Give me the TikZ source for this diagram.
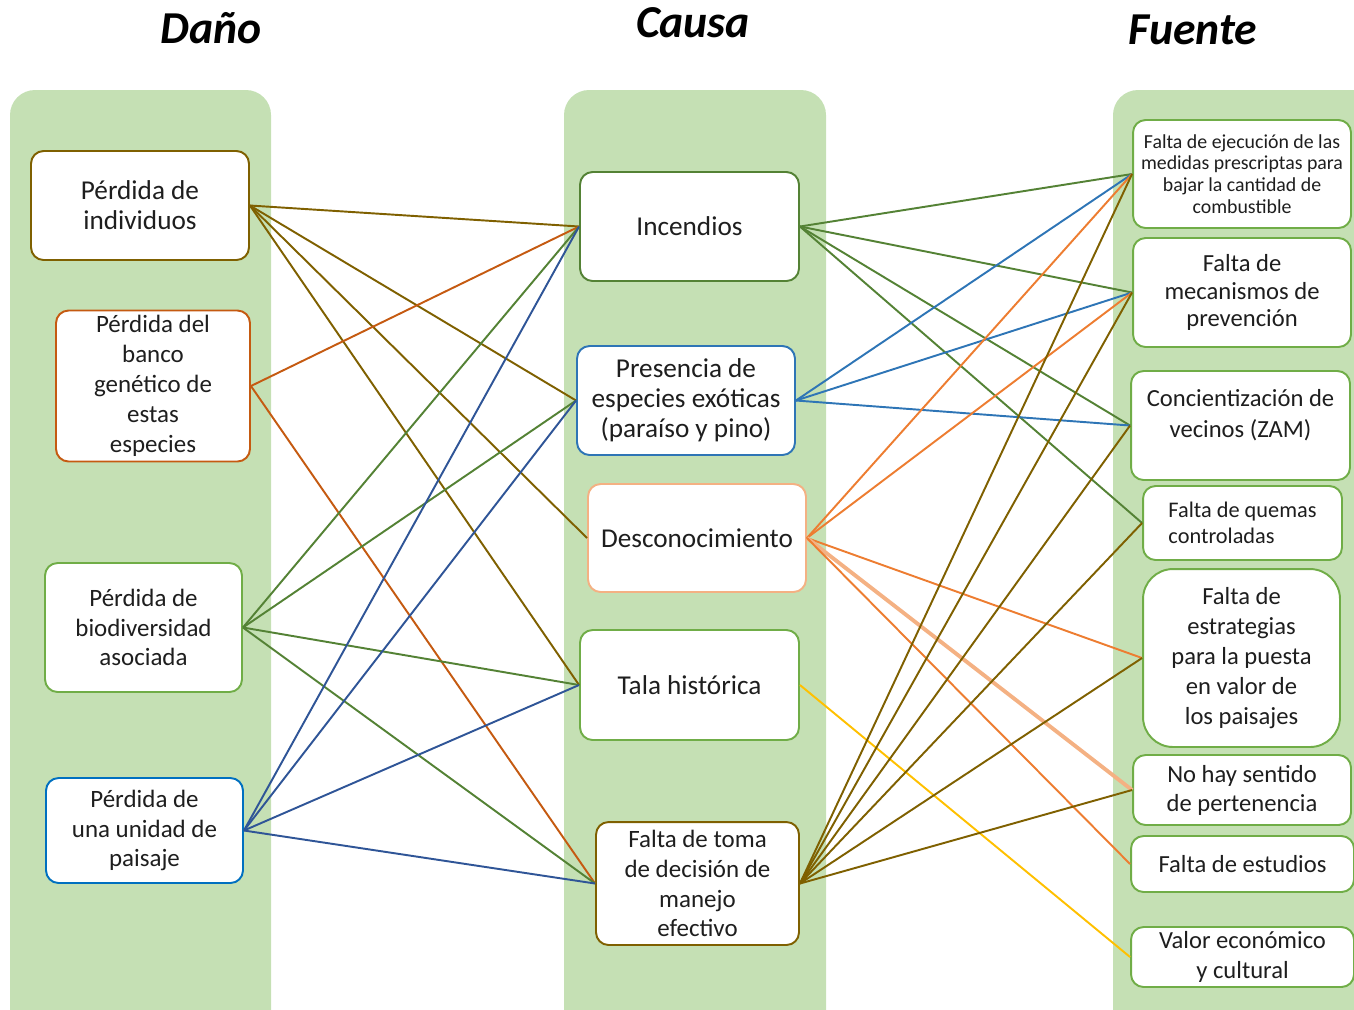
\documentclass[tikz,border=0pt]{standalone}
\usepackage{fontspec}
\setmainfont{Carlito}
\usepackage{xcolor}
\definecolor{colBg}{HTML}{C5E0B4}
\definecolor{brownLine}{HTML}{7F6000}
\definecolor{rustLine}{HTML}{C55A11}
\definecolor{leafGreen}{HTML}{70AD47}
\definecolor{darkGreen}{HTML}{548235}
\definecolor{navyLine}{HTML}{2F5597}
\definecolor{skyBlue}{HTML}{2E75B6}
\definecolor{boxBlue}{HTML}{0070C0}
\definecolor{peachLine}{HTML}{F4B183}
\definecolor{orangeLine}{HTML}{ED7D31}
\definecolor{goldLine}{HTML}{FFC000}
\definecolor{inkText}{HTML}{1E1E1E}
\usepackage{tikz}
\tikzset{%
  columnBg/.style={%
    fill=colBg,
    rounded corners=0.5cm
  },
  titleText/.style={%
    anchor=base,
    font=\fontsize{26}{30}\selectfont\bfseries\itshape
  },
  nodeBox/.style={%
    rectangle,
    rounded corners=0.25cm,
    fill=white,
    text=inkText,
    line width=1.1pt,
    align=center,
    inner sep=0pt,
    font=\fontsize{15.5}{17}\selectfont
  },
  smallBox/.style={%
    nodeBox,
    font=\fontsize{14.2}{17}\selectfont
  },
  sourceBox/.style={%
    nodeBox,
    draw=leafGreen,
    minimum width=4.36cm,
    font=\fontsize{14}{16.8}\selectfont
  },
  linkLine/.style={%
    line width=1.1pt
  }
}
\begin{document}
\begin{tikzpicture}[x=0.02cm,y=-0.02cm]
  \useasboundingbox (0,0) rectangle (1354,1009);
  \clip (0,0) rectangle (1354,1009);

  % columns
  \fill[columnBg] (10,90) rectangle (271,1060);
  \fill[columnBg] (564,90) rectangle (826,1060);
  \fill[columnBg] (1113,90) rectangle (1420,1060);

  \node[titleText] (titleDano) at (211,43) {Daño};
  \node[titleText] (titleCausa) at (693,37) {Causa};
  \node[titleText] (titleFuente) at (1193,44) {Fuente};

  % Daño
  \node[nodeBox, draw=brownLine, minimum width=4.36cm, minimum height=2.18cm] (lossIndiv) at (140,205.5) {Pérdida de\\individuos};
  \node[smallBox, draw=rustLine, minimum width=3.88cm, minimum height=3.02cm] (lossGenBank) at (153,386) {Pérdida del\\banco\\genético de\\estas\\especies};
  \node[smallBox, draw=leafGreen, minimum width=3.94cm, minimum height=2.58cm] (lossBiodiv) at (143.5,627.5) {Pérdida de\\biodiversidad\\asociada};
  \node[smallBox, draw=boxBlue, minimum width=3.94cm, minimum height=2.10cm] (lossLandscape) at (144.5,830.5) {Pérdida de\\una unidad de\\paisaje};

  % Causa
  \node[nodeBox, draw=darkGreen, minimum width=4.38cm, minimum height=2.18cm] (fireCause) at (689.5,226.5) {Incendios};
  \node[nodeBox, draw=skyBlue, minimum width=4.36cm, minimum height=2.18cm] (exoticCause) at (686,400.5) {Presencia de\\especies exóticas\\(paraíso y pino)};
  \node[nodeBox, draw=peachLine, minimum width=4.36cm, minimum height=2.16cm] (ignoranceCause) at (697,538) {Desconocimiento};
  \node[nodeBox, draw=leafGreen, minimum width=4.38cm, minimum height=2.20cm] (loggingCause) at (689.5,685) {Tala histórica};
  \node[smallBox, draw=brownLine, minimum width=4.06cm, minimum height=2.46cm] (decisionCause) at (697.5,883.5) {Falta de toma\\de decisión de\\manejo\\efectivo};

  % Fuente
  \node[sourceBox, minimum height=2.16cm, font=\fontsize{11.3}{12.4}\selectfont] (fuelSrc) at (1242,174) {Falta de ejecución de las\\medidas prescriptas para\\bajar la cantidad de\\combustible};
  \node[sourceBox, minimum height=2.18cm, font=\fontsize{14}{15.6}\selectfont] (preventSrc) at (1242,292.5) {Falta de\\mecanismos de\\prevención};
  \node[sourceBox, minimum width=4.38cm, minimum height=2.18cm, font=\fontsize{14}{17.6}\selectfont] (awareSrc) at (1240.5,425.5) {Concientización de\\vecinos (ZAM)\\[-4pt]\mbox{}};
  \node[sourceBox, minimum width=3.98cm, minimum height=1.48cm, align=left, font=\fontsize{12.7}{14.8}\selectfont] (burnSrc) at (1242.5,523) {Falta de quemas\\controladas};
  \node[sourceBox, minimum width=3.94cm, minimum height=3.56cm, rounded corners=0.6cm, font=\fontsize{14}{17}\selectfont] (strategySrc) at (1241.5,658) {Falta de\\estrategias\\para la puesta\\en valor de\\los paisajes};
  \node[sourceBox, minimum height=1.40cm, font=\fontsize{14}{16.5}\selectfont] (belongSrc) at (1242,790) {No hay sentido\\de pertenencia};
  \node[sourceBox, minimum width=4.46cm, minimum height=1.12cm] (studySrc) at (1242.5,864) {Falta de estudios};
  \node[sourceBox, minimum width=4.46cm, minimum height=1.20cm, font=\fontsize{14}{17}\selectfont] (valueSrc) at (1242.5,957) {Valor económico\\y cultural};

  % Daño -> Causa
  \draw[linkLine, brownLine] (lossIndiv.east) -- (fireCause.west);
  \draw[linkLine, brownLine] (lossIndiv.east) -- (exoticCause.west);
  \draw[linkLine, brownLine] (lossIndiv.east) -- (ignoranceCause.west);
  \draw[linkLine, brownLine] (lossIndiv.east) -- (loggingCause.west);
  \draw[linkLine, rustLine] (lossGenBank.east) -- (fireCause.west);
  \draw[linkLine, rustLine] (lossGenBank.east) -- (decisionCause.west);
  \draw[linkLine, darkGreen] (lossBiodiv.east) -- (fireCause.west);
  \draw[linkLine, darkGreen] (lossBiodiv.east) -- (exoticCause.west);
  \draw[linkLine, darkGreen] (lossBiodiv.east) -- (loggingCause.west);
  \draw[linkLine, darkGreen] (lossBiodiv.east) -- (decisionCause.west);
  \draw[linkLine, navyLine] (lossLandscape.east) -- (fireCause.west);
  \draw[linkLine, navyLine] (lossLandscape.east) -- (exoticCause.west);
  \draw[linkLine, navyLine] (lossLandscape.east) -- (loggingCause.west);
  \draw[linkLine, navyLine] (lossLandscape.east) -- (decisionCause.west);

  % Causa -> Fuente
  \draw[linkLine, darkGreen] (fireCause.east) -- (fuelSrc.west);
  \draw[linkLine, darkGreen] (fireCause.east) -- (preventSrc.west);
  \draw[linkLine, darkGreen] (fireCause.east) -- (awareSrc.west);
  \draw[linkLine, darkGreen] (fireCause.east) -- (burnSrc.west);
  \draw[linkLine, skyBlue] (exoticCause.east) -- (fuelSrc.west);
  \draw[linkLine, skyBlue] (exoticCause.east) -- (preventSrc.west);
  \draw[linkLine, skyBlue] (exoticCause.east) -- (awareSrc.west);
  \draw[linkLine, orangeLine] (ignoranceCause.east) -- (fuelSrc.west);
  \draw[linkLine, orangeLine] (ignoranceCause.east) -- (preventSrc.west);
  \draw[linkLine, orangeLine] (ignoranceCause.east) -- (strategySrc.west);
  \draw[linkLine, peachLine, line width=2.2pt] (ignoranceCause.east) -- (belongSrc.west);
  \draw[linkLine, orangeLine] (ignoranceCause.east) -- (studySrc.west);
  \draw[linkLine, goldLine] (loggingCause.east) -- (valueSrc.west);
  \draw[linkLine, brownLine] (decisionCause.east) -- (fuelSrc.west);
  \draw[linkLine, brownLine] (decisionCause.east) -- (preventSrc.west);
  \draw[linkLine, brownLine] (decisionCause.east) -- (awareSrc.west);
  \draw[linkLine, brownLine] (decisionCause.east) -- (burnSrc.west);
  \draw[linkLine, brownLine] (decisionCause.east) -- (strategySrc.west);
  \draw[linkLine, brownLine] (decisionCause.east) -- (belongSrc.west);
\end{tikzpicture}
\end{document}
